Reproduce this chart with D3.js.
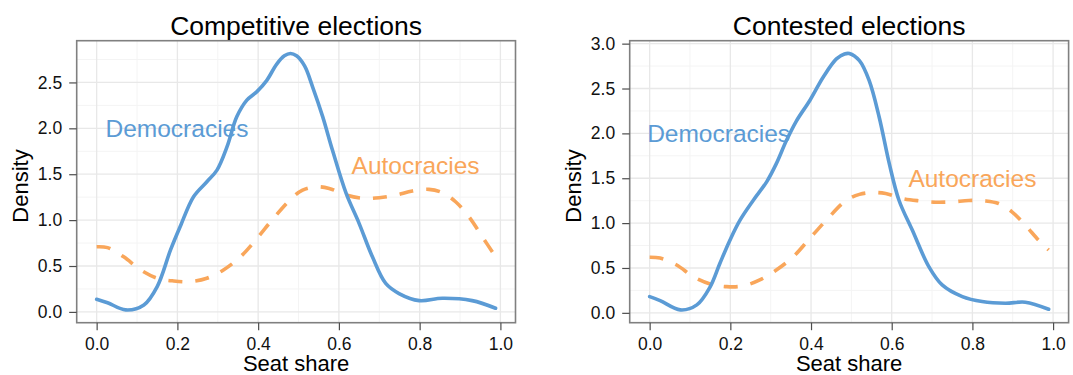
<!DOCTYPE html>
<html>
<head>
<meta charset="utf-8">
<script src="https://cdn.jsdelivr.net/npm/d3@7"></script>
<style>
  html, body { margin: 0; padding: 0; background: #ffffff; }
  svg text { font-family: "Liberation Sans", Arial, Helvetica, sans-serif; }
</style>
</head>
<body>
<svg id="chart" width="1073" height="375"></svg>
<script>
// Kernel density estimates of seat share, by regime type
const compDemX = [0, 0.027, 0.072, 0.117, 0.150, 0.183, 0.207, 0.240, 0.273, 0.298, 0.323, 0.347, 0.372, 0.397, 0.421, 0.446, 0.465, 0.48, 0.495, 0.515, 0.535, 0.56, 0.584, 0.618, 0.650, 0.683, 0.716, 0.749, 0.799, 0.856, 0.930, 0.988];
const compDemY = [0.138, 0.10, 0.022, 0.076, 0.276, 0.675, 0.93, 1.255, 1.418, 1.545, 1.80, 2.125, 2.307, 2.40, 2.52, 2.70, 2.79, 2.815, 2.79, 2.68, 2.45, 2.125, 1.763, 1.29, 0.965, 0.60, 0.31, 0.20, 0.123, 0.149, 0.123, 0.04];

const compAutX = [0, 0.027, 0.067, 0.109, 0.150, 0.191, 0.232, 0.273, 0.314, 0.356, 0.397, 0.438, 0.483, 0.51, 0.544, 0.576, 0.618, 0.659, 0.70, 0.741, 0.782, 0.823, 0.856, 0.889, 0.922, 0.955, 0.988];
const compAutY = [0.71, 0.70, 0.60, 0.457, 0.367, 0.337, 0.33, 0.367, 0.457, 0.60, 0.80, 1.02, 1.237, 1.327, 1.363, 1.345, 1.273, 1.237, 1.244, 1.273, 1.317, 1.335, 1.30, 1.20, 1.037, 0.82, 0.60];

const contDemX = [0, 0.026, 0.076, 0.117, 0.150, 0.174, 0.199, 0.224, 0.257, 0.290, 0.314, 0.339, 0.364, 0.397, 0.430, 0.463, 0.483, 0.495, 0.52, 0.544, 0.569, 0.594, 0.618, 0.651, 0.692, 0.725, 0.775, 0.824, 0.882, 0.931, 0.989];
const contDemY = [0.181, 0.137, 0.033, 0.089, 0.29, 0.55, 0.81, 1.033, 1.255, 1.46, 1.663, 1.92, 2.14, 2.367, 2.626, 2.83, 2.885, 2.89, 2.81, 2.59, 2.18, 1.663, 1.255, 0.922, 0.515, 0.311, 0.181, 0.126, 0.107, 0.119, 0.04];

const contAutX = [0, 0.026, 0.067, 0.109, 0.150, 0.191, 0.232, 0.273, 0.314, 0.356, 0.397, 0.438, 0.485, 0.52, 0.552, 0.585, 0.627, 0.668, 0.709, 0.75, 0.791, 0.832, 0.865, 0.898, 0.931, 0.964, 0.989];
const contAutY = [0.62, 0.61, 0.533, 0.40, 0.322, 0.292, 0.30, 0.367, 0.478, 0.626, 0.83, 1.033, 1.245, 1.32, 1.341, 1.33, 1.274, 1.248, 1.233, 1.237, 1.252, 1.248, 1.219, 1.126, 0.978, 0.81, 0.70];

const panelTitles = ["Competitive elections", "Contested elections"];
const xTicks = [0, 0.2, 0.4, 0.6, 0.8, 1.0];
const xMinor = [0.1, 0.3, 0.5, 0.7, 0.9];
const yTicksComp = [0, 0.5, 1.0, 1.5, 2.0, 2.5];
const yTicksCont = [0, 0.5, 1.0, 1.5, 2.0, 2.5, 3.0];
const yMinorComp = [0.25, 0.75, 1.25, 1.75, 2.25, 2.75];
const yMinorCont = [0.25, 0.75, 1.25, 1.75, 2.25, 2.75];
const seriesNames = ["Democracies", "Autocracies"];
// label anchor points in data units: [x, y]
const labelPosComp = [[0.199, 2.0], [0.79, 1.6]];
const labelPosCont = [[0.171, 2.0], [0.80, 1.5]];

const colDem = "#5b9bd5";
const colAut = "#f9a65a";

const svg = d3.select("#chart");

function expand(ext) {
  const pad = (ext[1] - ext[0]) * 0.05;
  return [ext[0] - pad, ext[1] + pad];
}

function zip(xs, ys) { return xs.map((x, i) => [x, ys[i]]); }

function drawPanel(opt) {
  const { left, right, top, bottom } = opt;
  const dem = zip(opt.demX, opt.demY);
  const aut = zip(opt.autX, opt.autY);
  const x = d3.scaleLinear()
    .domain(expand(d3.extent(opt.demX.concat(opt.autX))))
    .range([left, right]);
  const y = d3.scaleLinear()
    .domain(expand(d3.extent(opt.demY.concat(opt.autY))))
    .range([bottom, top]);

  const g = svg.append("g");

  // grid: minor then major
  const [yd0, yd1] = y.domain();
  g.append("g").selectAll("line").data(opt.yMinor.filter(v => v > yd0 && v < yd1)).join("line")
    .attr("x1", left).attr("x2", right)
    .attr("y1", d => y(d)).attr("y2", d => y(d))
    .attr("stroke", "#f4f4f4").attr("stroke-width", 1);
  g.append("g").selectAll("line").data(xMinor).join("line")
    .attr("y1", top).attr("y2", bottom)
    .attr("x1", d => x(d)).attr("x2", d => x(d))
    .attr("stroke", "#f4f4f4").attr("stroke-width", 1);
  g.append("g").selectAll("line").data(opt.yTicks).join("line")
    .attr("x1", left).attr("x2", right)
    .attr("y1", d => y(d)).attr("y2", d => y(d))
    .attr("stroke", "#e8e8e8").attr("stroke-width", 1.3);
  g.append("g").selectAll("line").data(xTicks).join("line")
    .attr("y1", top).attr("y2", bottom)
    .attr("x1", d => x(d)).attr("x2", d => x(d))
    .attr("stroke", "#e8e8e8").attr("stroke-width", 1.3);

  // density curves
  const line = d3.line().x(d => x(d[0])).y(d => y(d[1])).curve(d3.curveCatmullRom.alpha(0.5));
  g.append("path").datum(aut).attr("d", line)
    .attr("fill", "none").attr("stroke", colAut).attr("stroke-width", 3.6)
    .attr("stroke-dasharray", "14,13");
  g.append("path").datum(dem).attr("d", line)
    .attr("fill", "none").attr("stroke", colDem).attr("stroke-width", 3.6)
    .attr("stroke-linejoin", "round").attr("stroke-linecap", "round");

  // panel border
  g.append("rect").attr("x", left).attr("y", top)
    .attr("width", right - left).attr("height", bottom - top)
    .attr("fill", "none").attr("stroke", "#808080").attr("stroke-width", 1.6);

  // axes
  const fmt = d3.format(".1f");
  const xAxis = g.append("g").attr("transform", `translate(0,${bottom})`)
    .call(d3.axisBottom(x).tickValues(xTicks).tickFormat(fmt).tickSize(7.5).tickPadding(6));
  const yAxis = g.append("g").attr("transform", `translate(${left},0)`)
    .call(d3.axisLeft(y).tickValues(opt.yTicks).tickFormat(fmt).tickSize(7.5).tickPadding(7));
  [xAxis, yAxis].forEach(a => {
    a.select(".domain").remove();
    a.selectAll(".tick line").attr("stroke", "#4d4d4d").attr("stroke-width", 1.2);
    a.selectAll(".tick text").attr("fill", "#111").attr("font-size", "17.5px")
      .attr("font-family", "'Liberation Sans', Arial, sans-serif");
  });
  xAxis.selectAll(".tick text").attr("dy", null).attr("y", 27.5);

  const cx = (left + right) / 2;
  g.append("text").attr("x", cx).attr("y", 35).attr("text-anchor", "middle")
    .attr("font-size", "26.5px").attr("fill", "#000").text(opt.title);
  g.append("text").attr("x", cx).attr("y", 371).attr("text-anchor", "middle")
    .attr("font-size", "22px").attr("fill", "#000").text("Seat share");
  g.append("text").attr("transform", `translate(${opt.yTitleX},186) rotate(-90)`)
    .attr("text-anchor", "middle").attr("font-size", "22px").attr("fill", "#000").text("Density");

  // direct labels
  const fs = 24.5;
  [colDem, colAut].forEach((c, i) => {
    const p = opt.labels[i];
    g.append("text").attr("x", x(p[0])).attr("y", y(p[1]) + fs * 0.358)
      .attr("text-anchor", "middle").attr("font-size", fs + "px").attr("fill", c)
      .text(seriesNames[i]);
  });
}

drawPanel({
  left: 76.7, right: 515.5, top: 40.7, bottom: 322.7, yTitleX: 28,
  demX: compDemX, demY: compDemY, autX: compAutX, autY: compAutY,
  yTicks: yTicksComp, yMinor: yMinorComp, labels: labelPosComp, title: panelTitles[0]
});
drawPanel({
  left: 629.7, right: 1068.6, top: 40.7, bottom: 322.7, yTitleX: 581,
  demX: contDemX, demY: contDemY, autX: contAutX, autY: contAutY,
  yTicks: yTicksCont, yMinor: yMinorCont, labels: labelPosCont, title: panelTitles[1]
});
</script>
</body>
</html>
